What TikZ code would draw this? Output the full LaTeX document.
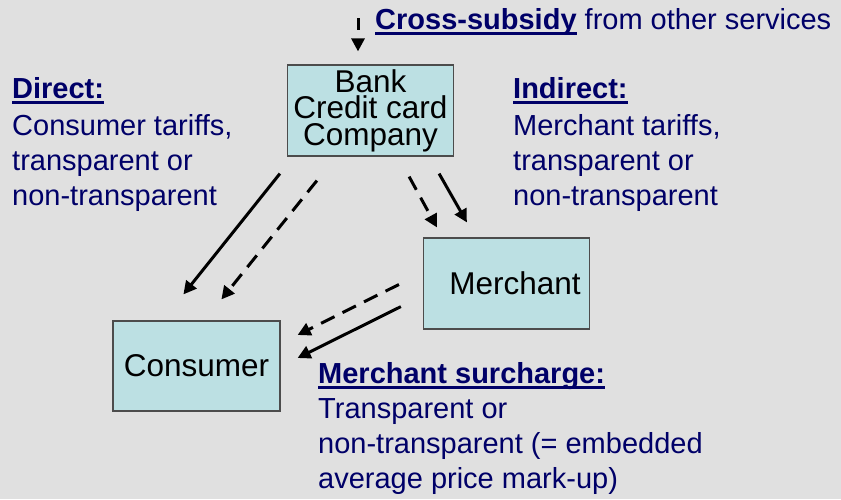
\documentclass[tikz,border=0pt]{standalone}
\usepackage{fontspec}
\setmainfont{Liberation Sans}
\usetikzlibrary{arrows.meta,calc}
\definecolor{bgray}{RGB}{224,224,224}
\definecolor{boxfill}{RGB}{188,224,227}
\definecolor{navy}{RGB}{0,0,104}
\newsavebox{\hdbox}
\newcommand{\hd}[1]{\sbox{\hdbox}{\textbf{#1}}\rlap{\rule[-6pt]{\wd\hdbox}{2.8pt}}\usebox{\hdbox}}

\begin{document}
\begin{tikzpicture}[x=1pt,y=-1pt,
	box/.style={draw=black!70, line width=1.2pt, fill=boxfill, minimum width=166pt,
		minimum height=91pt, inner sep=0pt, align=center, font=\fontsize{31.5}{26.5}\selectfont},
	lbl/.style={text=navy, anchor=base west, align=left, inner sep=0pt,
		font=\fontsize{29}{35}\selectfont},
	arr/.style={line width=3pt, -{Triangle[length=13pt,width=13pt]}},
	dsh/.style={arr, dash pattern=on 15pt off 9pt}]
			\fill[bgray] (0,0) rectangle (841,499);
			% the three parties
			\node[box] (bank) at (370.5,110.5) {Bank\\Credit card\\Company};
			\node[box] (merchant) at (506.5,283.5) {\hspace*{17pt}Merchant};
			\node[box, minimum width=167pt, minimum height=90pt] (consumer) at (196.5,366) {Consumer};
			% texts (base = last line)
			\node[lbl] (direct) at (12,205) {\hd{Direct:}\\[2pt]Consumer tariffs,\\transparent or\\non-transparent};
			\node[lbl] (indirect) at (513,205) {\hd{Indirect:}\\[2pt]Merchant tariffs,\\transparent or\\non-transparent};
			\node[lbl] (surcharge) at (318,488) {\hd{Merchant surcharge:}\\Transparent or\\non-transparent (= embedded\\average price mark-up)};
			\node[lbl] (subsidy) at (375,29) {\hd{Cross-subsidy} from other services};
			% flows
			\coordinate (subtop) at (358,18);
			\draw[arr, dash pattern=on 12pt off 9pt] (subtop) -- ($(bank.north)+(-12.5,-13)$);
			\draw[arr] ($(bank.south west)+(-7,17)$) -- ($(consumer.north west)+(71,-26)$);
			\draw[dsh] ($(bank.south west)+(30,24)$) -- ($(consumer.north west)+(109,-21)$);
			\draw[dsh] ($(bank.south east)+(-45,20)$) -- ($(merchant.north west)+(14,-10)$);
			\draw[arr] ($(bank.south east)+(-15,17)$) -- ($(merchant.north west)+(44,-15)$);
			\draw[dsh] ($(merchant.west)+(-24,1)$) -- ($(consumer.east)+(17,-31)$);
			\draw[arr] ($(merchant.south west)+(-22,-23)$) -- ($(consumer.east)+(17,-8)$);
		\end{tikzpicture}
\end{document}
